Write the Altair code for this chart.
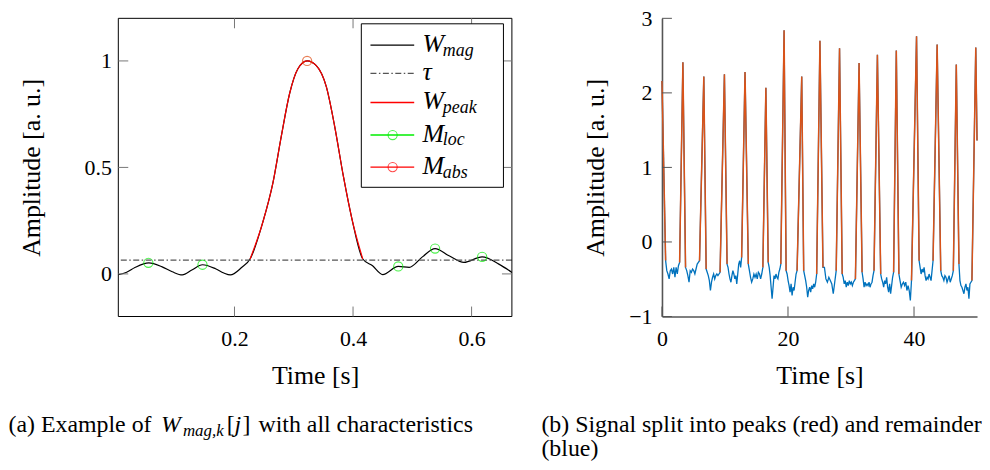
import altair as alt
import pandas as pd

FONT = "Liberation Serif"

# ---------------- Panel (a) data ----------------
wmag_t = [0.004, 0.018, 0.032, 0.0555, 0.078, 0.095, 0.112, 0.128, 0.146, 0.168, 0.182, 0.193,
          0.212, 0.2263, 0.248, 0.265, 0.279, 0.293, 0.307, 0.3225, 0.338, 0.355, 0.369, 0.3836,
          0.398, 0.4164, 0.433, 0.45, 0.4763, 0.4948, 0.517, 0.5384, 0.562, 0.587, 0.6178, 0.646, 0.668]
wmag_v = [-0.004, 0.008, 0.03, 0.052, 0.033, 0.01, -0.005, 0.018, 0.043, 0.024, 0.004, -0.005,
          0.03, 0.07, 0.245, 0.43, 0.647, 0.847, 0.963, 1.0, 0.978, 0.878, 0.693, 0.46,
          0.26, 0.07, 0.038, -0.003, 0.035, 0.031, 0.08, 0.119, 0.085, 0.054, 0.08, 0.046, 0.007]
tau = 0.065
mloc_t = [0.0547, 0.146, 0.4763, 0.5384, 0.6178]
mloc_v = [0.052, 0.043, 0.035, 0.119, 0.080]
mabs_t = [0.3225]
mabs_v = [1.0]
a_xticks = [0.2, 0.4, 0.6]
a_yticks = [0, 0.5, 1]

# ---------------- Panel (b) data ----------------
peak_t = [0.0, 3.32, 6.64, 9.91, 13.18, 16.49, 19.38, 22.18, 25.07, 28.18, 31.28, 34.19,
          37.19, 40.40, 43.67, 46.71, 49.80]
peak_v = [2.16, 2.41, 2.22, 2.25, 2.28, 2.07, 2.84, 2.22, 2.70, 2.60, 2.40, 2.51,
          2.57, 2.76, 2.65, 2.38, 2.61]
end_t, end_v = 50.0, 1.36
blue_start = [0.58, 3.74, 7.01, 10.33, 13.70, 16.86, 19.70, 22.49, 25.55, 28.60, 31.76, 34.71,
              37.60, 40.81, 44.24, 47.13]
blue_end = [2.80, 5.96, 9.22, 12.64, 16.01, 18.86, 21.44, 24.55, 27.65, 30.70, 33.65, 36.76,
            39.60, 43.02, 46.24, 49.19]
blue_vals = [
    [-0.25, -0.385, -0.43, -0.496, -0.385, -0.363, -0.43, -0.341, -0.474, -0.341, -0.43, -0.319, -0.274],
    [-0.341, -0.385, -0.452, -0.54, -0.385, -0.407, -0.363, -0.385, -0.43, -0.363, -0.297, -0.274, -0.252],
    [-0.363, -0.407, -0.452, -0.518, -0.651, -0.54, -0.474, -0.43, -0.496, -0.452, -0.43, -0.452, -0.43, -0.407],
    [-0.297, -0.341, -0.43, -0.496, -0.54, -0.452, -0.385, -0.43, -0.496, -0.452, -0.563, -0.43, -0.297,
     -0.252, -0.341, -0.208],
    [-0.297, -0.385, -0.474, -0.54, -0.496, -0.43, -0.474, -0.43, -0.496, -0.407, -0.43, -0.496, -0.43, -0.341],
    [-0.274, -0.341, -0.452, -0.607, -0.762, -0.607, -0.452, -0.496, -0.43, -0.474, -0.496, -0.407, -0.363, -0.297],
    [-0.385, -0.43, -0.518, -0.585, -0.673, -0.563, -0.718, -0.607, -0.651, -0.54, -0.43, -0.385],
    [-0.385, -0.452, -0.518, -0.607, -0.74, -0.651, -0.607, -0.673, -0.585, -0.629, -0.563, -0.607, -0.54, -0.43],
    [-0.341, -0.341, -0.496, -0.54, -0.474, -0.518, -0.563, -0.695, -0.54, -0.385],
    [-0.43, -0.474, -0.563, -0.518, -0.607, -0.54, -0.585, -0.518, -0.563, -0.54, -0.585, -0.54, -0.518, -0.496],
    [-0.407, -0.496, -0.607, -0.54, -0.585, -0.563, -0.585, -0.54, -0.607, -0.563, -0.54, -0.452, -0.385],
    [-0.43, -0.496, -0.54, -0.607, -0.518, -0.563, -0.474, -0.607, -0.673, -0.563, -0.695, -0.585, -0.474, -0.407],
    [-0.43, -0.518, -0.607, -0.563, -0.54, -0.585, -0.54, -0.651, -0.585, -0.651, -0.784, -0.518],
    [-0.252, -0.341, -0.43, -0.363, -0.407, -0.341, -0.452, -0.518, -0.474, -0.496, -0.43, -0.474, -0.518,
     -0.385, -0.252],
    [-0.385, -0.452, -0.474, -0.518, -0.452, -0.474, -0.54, -0.496, -0.452, -0.54, -0.496, -0.452, -0.385],
    [-0.297, -0.518, -0.585, -0.607, -0.651, -0.695, -0.607, -0.563, -0.651, -0.607, -0.762, -0.563, -0.54, -0.518],
]
b_xticks = [0, 20, 40]
b_yticks = [-1, 0, 1, 2, 3]

# ---------------- styles ----------------
W1, H1 = 396, 300
W2, H2 = 317, 300
TICK = 10
LBL, TTL = 22, 26
CAP = 24
BLUE, ORANGE = "#0072BD", "#D95319"

# ================= Panel (a) =================
xs1 = alt.Scale(domain=[0.004, 0.668], nice=False, zero=False)
ys1 = alt.Scale(domain=[-0.2, 1.2], nice=False, zero=False)

df_mag = pd.DataFrame({"t": wmag_t, "v": wmag_v})
df_peak = df_mag[(df_mag.t >= 0.2263) & (df_mag.t <= 0.4164)]

axis_common = dict(grid=False, ticks=False, labelFontSize=LBL, titleFontSize=TTL,
                   labelFont=FONT, titleFont=FONT, labelColor="black", titleColor="black",
                   titleFontWeight="normal", format="~g", labelFlush=False)

mag = alt.Chart(df_mag).mark_line(color="black", strokeWidth=1.2, interpolate="monotone").encode(
    x=alt.X("t:Q", scale=xs1, axis=alt.Axis(values=a_xticks, title="Time [s]", domain=False,
                                            labelPadding=12, titlePadding=13, **axis_common)),
    y=alt.Y("v:Q", scale=ys1, axis=alt.Axis(values=a_yticks, title="Amplitude [a. u.]", domain=False,
                                            labelPadding=7, titlePadding=40, **axis_common)),
)
tau_line = alt.Chart(pd.DataFrame({"v": [tau]})).mark_rule(
    color="#555555", strokeWidth=1.3, strokeDash=[6, 2.5, 1.5, 2.5]).encode(y=alt.Y("v:Q", scale=ys1))
peak = alt.Chart(df_peak).mark_line(color="#ff0000", strokeWidth=1.2, interpolate="monotone").encode(
    x=alt.X("t:Q", scale=xs1), y=alt.Y("v:Q", scale=ys1))
mloc = alt.Chart(pd.DataFrame({"t": mloc_t, "v": mloc_v})).mark_point(
    shape="circle", size=85, color="#00ee00", strokeWidth=1.1, filled=False).encode(
    x=alt.X("t:Q", scale=xs1), y=alt.Y("v:Q", scale=ys1))
mabs = alt.Chart(pd.DataFrame({"t": mabs_t, "v": mabs_v})).mark_point(
    shape="circle", size=85, color="#e04a10", strokeWidth=1.2, filled=False).encode(
    x=alt.X("t:Q", scale=xs1), y=alt.Y("v:Q", scale=ys1))

one = pd.DataFrame({"a": [0]})
frame = alt.Chart(one).mark_rect(fillOpacity=0, stroke="black", strokeWidth=1).encode(
    x=alt.value(0), x2=alt.value(W1), y=alt.value(0), y2=alt.value(H1))

df_axt = pd.DataFrame({"t": a_xticks})
df_ayt = pd.DataFrame({"v": a_yticks})
tk_style = dict(color="#777777", strokeWidth=1)
a_ticks = [
    alt.Chart(df_axt).mark_rule(**tk_style).encode(x=alt.X("t:Q", scale=xs1), y=alt.value(H1), y2=alt.value(H1 - TICK)),
    alt.Chart(df_axt).mark_rule(**tk_style).encode(x=alt.X("t:Q", scale=xs1), y=alt.value(0), y2=alt.value(TICK)),
    alt.Chart(df_ayt).mark_rule(**tk_style).encode(y=alt.Y("v:Q", scale=ys1), x=alt.value(0), x2=alt.value(TICK)),
    alt.Chart(df_ayt).mark_rule(**tk_style).encode(y=alt.Y("v:Q", scale=ys1), x=alt.value(W1), x2=alt.value(W1 - TICK)),
]

# legend (drawn by hand to allow math subscripts)
LX0, LX1, LY0, LY1 = 244.5, 387.5, 5.5, 170.0
leg_box = alt.Chart(one).mark_rect(fill="white", stroke="black", strokeWidth=1).encode(
    x=alt.value(LX0), x2=alt.value(LX1), y=alt.value(LY0), y2=alt.value(LY1))
entries = [
    ("W", "mag", "black", None, None, 27.0),
    ("τ", "", "#555555", [6, 2.5, 1.5, 2.5], None, 55.4),
    ("W", "peak", "#ff0000", None, None, 84.7),
    ("M", "loc", "#00ee00", None, "#00ee00", 117.4),
    ("M", "abs", "#ff0000", None, "#ff0000", 149.7),
]
leg_layers = [leg_box]
for main, sub, col, dash, mk, yy in entries:
    rk = dict(color=col, strokeWidth=1.3)
    if dash:
        rk["strokeDash"] = dash
    leg_layers.append(alt.Chart(one).mark_rule(**rk).encode(
        x=alt.value(253.7), x2=alt.value(297.7), y=alt.value(yy)))
    if mk:
        leg_layers.append(alt.Chart(one).mark_point(shape="circle", size=85, color=mk, filled=False,
                                                    strokeWidth=1.1).encode(x=alt.value(276), y=alt.value(yy)))
    leg_layers.append(alt.Chart(one).mark_text(font=FONT, fontStyle="italic", fontSize=26, align="left",
                                               baseline="alphabetic", color="black").encode(
        x=alt.value(306), y=alt.value(yy + 7), text=alt.value(main)))
    if sub:
        leg_layers.append(alt.Chart(one).mark_text(font=FONT, fontStyle="italic", fontSize=18, align="left",
                                                   baseline="alphabetic", color="black").encode(
            x=alt.value(326.5), y=alt.value(yy + 10.5), text=alt.value(sub)))

# caption (a), assembled from pieces so that the math part can be italic / subscript
CY1, CY2 = 416.5, 440.5
cap_a = [
    ("(a) Example of", -110.5, CY1, CAP, "normal"),
    ("W", 43.0, CY1, CAP, "italic"),
    ("mag,k", 65.0, CY1 + 4, 17, "italic"),
    ("[", 109.0, CY1, CAP, "normal"),
    ("j", 117.0, CY1, CAP, "italic"),
    ("]", 125.0, CY1, CAP, "normal"),
    ("with all characteristics", 141.0, CY1, CAP, "normal"),
]
cap_a_layers = [
    alt.Chart(one).mark_text(font=FONT, fontSize=fs, fontStyle=st, align="left", baseline="alphabetic",
                             color="black").encode(x=alt.value(xx), y=alt.value(yy), text=alt.value(tx))
    for tx, xx, yy, fs, st in cap_a
]

panel_a = alt.layer(mag, tau_line, peak, mloc, mabs, frame, *a_ticks, *leg_layers, *cap_a_layers).properties(
    width=W1, height=H1)

# ================= Panel (b) =================
xs2 = alt.Scale(domain=[0, 50], nice=False, zero=False)
ys2 = alt.Scale(domain=[-1, 3], nice=False, zero=False)

full_rows, red_rows = [], []
for k in range(len(peak_t)):
    pts = []
    if k == 0:
        pts.append((peak_t[0], peak_v[0]))
    else:
        pts.append((blue_end[k - 1], blue_vals[k - 1][-1]))
        pts.append((peak_t[k], peak_v[k]))
    if k < len(blue_start):
        pts.append((blue_start[k], blue_vals[k][0]))
    else:
        pts.append((end_t, end_v))
    for t, v in pts:
        red_rows.append({"t": t, "v": v, "seg": f"r{k}"})
        full_rows.append({"t": t, "v": v})
for k, vals in enumerate(blue_vals):
    n = len(vals)
    t0, t1 = blue_start[k], blue_end[k]
    for i, v in enumerate(vals):
        full_rows.append({"t": t0 + (t1 - t0) * i / (n - 1), "v": v})
df_full = pd.DataFrame(full_rows).drop_duplicates(subset="t").sort_values("t").reset_index(drop=True)
df_red = pd.DataFrame(red_rows)

axis_b = dict(grid=False, ticks=False, labelFontSize=LBL, titleFontSize=TTL, labelFont=FONT,
              titleFont=FONT, labelColor="black", titleColor="black", titleFontWeight="normal",
              domain=True, domainColor="#555555", domainWidth=1.6, format="~g", labelFlush=False)

blue_line = alt.Chart(df_full).mark_line(color=BLUE, strokeWidth=1.3).encode(
    x=alt.X("t:Q", scale=xs2, sort=None, axis=alt.Axis(values=b_xticks, title="Time [s]", labelPadding=12,
                                                       titlePadding=13, **axis_b)),
    y=alt.Y("v:Q", scale=ys2, axis=alt.Axis(values=b_yticks, title="Amplitude [a. u.]", labelPadding=10,
                                            titlePadding=20, **axis_b)),
)
red_line = alt.Chart(df_red).mark_line(color=ORANGE, strokeWidth=1.5).encode(
    x=alt.X("t:Q", scale=xs2), y=alt.Y("v:Q", scale=ys2), detail="seg:N")

df_bxt = pd.DataFrame({"t": b_xticks})
df_byt = pd.DataFrame({"v": b_yticks})
tk_b = dict(color="#555555", strokeWidth=1)
b_ticks = [
    alt.Chart(df_bxt).mark_rule(**tk_b).encode(x=alt.X("t:Q", scale=xs2), y=alt.value(H2), y2=alt.value(H2 - TICK)),
    alt.Chart(df_byt).mark_rule(**tk_b).encode(y=alt.Y("v:Q", scale=ys2), x=alt.value(0), x2=alt.value(TICK)),
]

cap_b = [
    ("(b) Signal split into peaks (red) and remainder", -121.3, CY1),
    ("(blue)", -121.3, CY2),
]
cap_b_layers = [
    alt.Chart(one).mark_text(font=FONT, fontSize=CAP, align="left", baseline="alphabetic", color="black").encode(
        x=alt.value(xx), y=alt.value(yy), text=alt.value(tx))
    for tx, xx, yy in cap_b
]

panel_b = alt.layer(blue_line, red_line, *b_ticks, *cap_b_layers).properties(width=W2, height=H2)

chart = alt.hconcat(panel_a, panel_b, spacing=26).properties(
    padding={"left": 0, "top": -2, "right": 0, "bottom": 0}
).configure(background="white", view=alt.ViewConfig(stroke=None))

chart.save("out.html", embed_options={"renderer": "svg", "actions": False})
